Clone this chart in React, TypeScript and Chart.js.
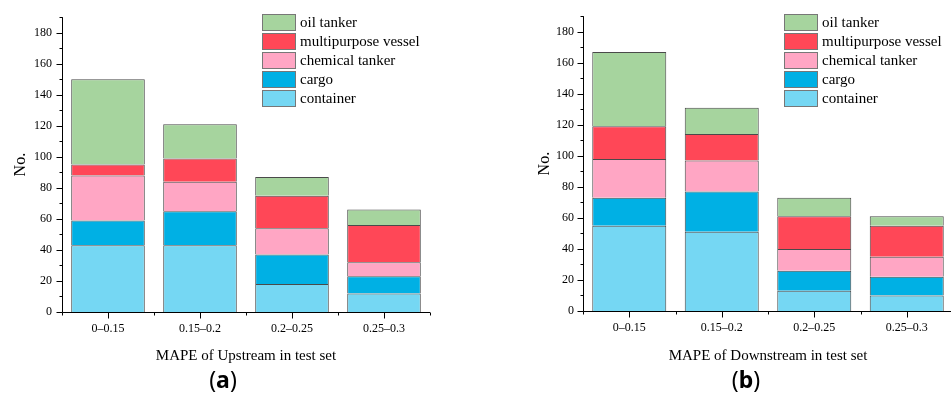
import React, { useEffect, useRef } from 'react';
import { Chart, registerables } from 'chart.js';

Chart.register(...registerables);

const categories = ['0–0.15', '0.15–0.2', '0.2–0.25', '0.25–0.3'];
const seriesNames = ['container', 'cargo', 'chemical tanker', 'multipurpose vessel', 'oil tanker'];
const seriesColors = ['#75D7F3', '#00B0E4', '#FFA6C4', '#FF4757', '#A6D49E'];

// Upstream (a)
const upContainer = [43, 43, 18, 12];
const upCargo = [16, 22, 19, 11];
const upChemical = [29, 19, 17, 9];
const upMultipurpose = [7, 15, 21, 24];
const upOil = [55, 22, 12, 10];

// Downstream (b)
const downContainer = [55, 51, 13, 10];
const downCargo = [18, 26, 13, 12];
const downChemical = [25, 20, 14, 13];
const downMultipurpose = [21, 17, 21, 20];
const downOil = [48, 17, 12, 6];

const yMin = 0;
const yMax = 190;
const yMajorStep = 20;
const yMinorStep = 10;

const xTitleA = 'MAPE of Upstream in test set';
const xTitleB = 'MAPE of Downstream in test set';
const yTitle = 'No.';

const FONT = "'Liberation Serif', 'Times New Roman', serif";

const axisPlugin = {
  id: 'axisTicks',
  afterDraw(chart: any) {
    const { ctx, chartArea } = chart;
    const xs = chart.scales.x;
    const ys = chart.scales.y;
    const L = Math.round(chartArea.left) + 0.5;
    const B = Math.round(chartArea.bottom) + 0.5;
    ctx.save();
    ctx.strokeStyle = '#000';
    ctx.lineWidth = 1;
    ctx.beginPath();
    ctx.moveTo(L, chartArea.top);
    ctx.lineTo(L, B);
    ctx.lineTo(chartArea.right, B);
    for (let v = yMin; v <= yMax; v += yMinorStep) {
      const y = Math.round(ys.getPixelForValue(v)) + 0.5;
      const len = v % yMajorStep === 0 ? 6 : 3;
      ctx.moveTo(L - len, y);
      ctx.lineTo(L, y);
    }
    for (let i = 0; i < categories.length; i++) {
      const x = Math.round(xs.getPixelForValue(i)) + 0.5;
      ctx.moveTo(x, B);
      ctx.lineTo(x, B + 6);
    }
    for (let i = 0; i <= categories.length; i++) {
      const x = Math.round(xs.getPixelForValue(i - 0.5)) + 0.5;
      ctx.moveTo(x, B);
      ctx.lineTo(x, B + 3);
    }
    ctx.stroke();
    ctx.restore();
  },
};

type Layout = {
  padTop: number;
  padRight: number;
  yWidth: number;
  xHeight: number;
  yTickPad: number;
  xTickPad: number;
  yTitlePad: number;
  xTitlePad: number;
};

function makeChart(canvas: HTMLCanvasElement, series: number[][], xTitle: string, lay: Layout) {
  return new Chart(canvas, {
    type: 'bar',
    data: {
      labels: categories,
      datasets: seriesNames.map((name, i) => ({
        label: name,
        data: series[i],
        backgroundColor: seriesColors[i],
        borderColor: '#4a4a4a',
        borderWidth: 1,
        categoryPercentage: 0.8,
        barPercentage: 1,
      })),
    },
    options: {
      animation: false,
      responsive: false,
      maintainAspectRatio: false,
      layout: { padding: { top: lay.padTop, right: lay.padRight, left: 0, bottom: 0 } },
      plugins: { legend: { display: false }, tooltip: { enabled: false } },
      scales: {
        x: {
          stacked: true,
          grid: { display: false, drawTicks: false },
          border: { display: false },
          ticks: { color: '#000', font: { family: FONT, size: 12 }, padding: lay.xTickPad, maxRotation: 0 },
          title: {
            display: true,
            text: xTitle,
            color: '#000',
            font: { family: FONT, size: 15 },
            padding: { top: lay.xTitlePad, bottom: 0 },
          },
          afterFit: (s: any) => {
            s.height = lay.xHeight;
          },
        },
        y: {
          stacked: true,
          min: yMin,
          max: yMax,
          grid: { display: false, drawTicks: false },
          border: { display: false },
          ticks: {
            stepSize: yMajorStep,
            includeBounds: false,
            color: '#000',
            font: { family: FONT, size: 12 },
            padding: lay.yTickPad,
            callback: (v: any) => (Number(v) % yMajorStep === 0 ? String(v) : ''),
          },
          title: {
            display: true,
            text: yTitle,
            color: '#000',
            font: { family: FONT, size: 16 },
            padding: { top: lay.yTitlePad, bottom: 0 },
          },
          afterFit: (s: any) => {
            s.width = lay.yWidth;
          },
        },
      },
    } as any,
    plugins: [axisPlugin],
  });
}

function Legend({ left, top }: { left: number; top: number }) {
  const order = [4, 3, 2, 1, 0];
  return (
    <div style={{ position: 'absolute', left, top }}>
      {order.map((i) => (
        <div key={i} style={{ display: 'flex', alignItems: 'center', height: 19 }}>
          <div
            style={{
              width: 34,
              height: 17,
              boxSizing: 'border-box',
              background: seriesColors[i],
              border: '1px solid #777',
            }}
          />
          <span
            style={{
              marginLeft: 4,
              fontFamily: FONT,
              fontSize: 15,
              lineHeight: '19px',
              color: '#000',
              whiteSpace: 'nowrap',
            }}
          >
            {seriesNames[i]}
          </span>
        </div>
      ))}
    </div>
  );
}

function PanelLabel({ cx, top, letter }: { cx: number; top: number; letter: string }) {
  return (
    <div
      style={{
        position: 'absolute',
        left: cx - 50,
        top,
        width: 100,
        textAlign: 'center',
        fontFamily: "'Noto Sans', sans-serif",
        fontSize: 23,
        lineHeight: '28px',
        color: '#000',
      }}
    >
      (<b>{letter}</b>)
    </div>
  );
}

export default function App() {
  const refA = useRef<HTMLCanvasElement>(null);
  const refB = useRef<HTMLCanvasElement>(null);

  useEffect(() => {
    const a = makeChart(
      refA.current!,
      [upContainer, upCargo, upChemical, upMultipurpose, upOil],
      xTitleA,
      { padTop: 16, padRight: 10, yWidth: 62, xHeight: 53, yTickPad: 10, xTickPad: 10, yTitlePad: 11, xTitlePad: 4 }
    );
    const b = makeChart(
      refB.current!,
      [downContainer, downCargo, downChemical, downMultipurpose, downOil],
      xTitleB,
      { padTop: 13, padRight: 10, yWidth: 63, xHeight: 54, yTickPad: 9, xTickPad: 10, yTitlePad: 15, xTitlePad: 6 }
    );
    return () => {
      a.destroy();
      b.destroy();
    };
  }, []);

  return (
    <div
      style={{
        position: 'absolute',
        left: 0,
        top: 0,
        width: 951,
        height: 394,
        overflow: 'hidden',
        background: '#fff',
      }}
    >
      <canvas ref={refA} width={440} height={365} style={{ position: 'absolute', left: 0, top: 0 }} />
      <canvas ref={refB} width={443} height={365} style={{ position: 'absolute', left: 520, top: 0 }} />
      <Legend left={262} top={13} />
      <Legend left={784} top={13} />
      <PanelLabel cx={223} top={365} letter="a" />
      <PanelLabel cx={746} top={365} letter="b" />
    </div>
  );
}
